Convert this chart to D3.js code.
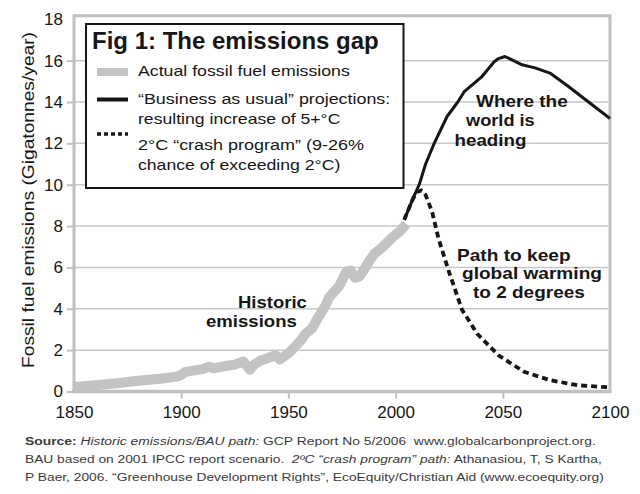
<!DOCTYPE html>
<html>
<head>
<meta charset="utf-8">
<script src="https://cdn.jsdelivr.net/npm/d3@7"></script>
<style>
  html, body { margin: 0; padding: 0; background: #fff; }
  svg { display: block; font-family: "Liberation Sans", Arial, Helvetica, sans-serif; }
</style>
</head>
<body>
<svg id="chart" width="640" height="494"></svg>
<script>
// ---------- data ----------
const xTicks = [1850, 1900, 1950, 2000, 2050, 2100];
const yTicks = [0, 2, 4, 6, 8, 10, 12, 14, 16, 18];

const histYears  = [1850, 1860, 1870, 1880, 1890, 1898, 1900, 1902, 1910, 1913, 1915, 1920, 1925, 1929, 1932, 1934, 1937, 1940, 1944, 1946, 1950, 1953, 1956, 1958, 1961, 1964, 1967, 1969, 1972, 1974, 1977, 1979, 1981, 1983, 1985, 1988, 1990, 1993, 1996, 1999, 2002, 2005];
const histValues = [0.22, 0.3, 0.4, 0.52, 0.62, 0.72, 0.8, 0.95, 1.08, 1.2, 1.12, 1.22, 1.3, 1.45, 1.05, 1.3, 1.5, 1.6, 1.75, 1.55, 1.85, 2.15, 2.5, 2.8, 3.05, 3.6, 4.1, 4.55, 4.9, 5.15, 5.8, 5.85, 5.5, 5.55, 5.85, 6.35, 6.65, 6.9, 7.2, 7.5, 7.75, 8.1];

const bauYears  = [2004, 2008, 2011, 2014, 2018, 2024, 2029, 2032, 2040, 2046, 2048, 2051, 2055, 2059, 2065, 2072, 2080, 2090, 2100];
const bauValues = [8.3, 9.3, 10.0, 11.0, 12.0, 13.3, 14.0, 14.5, 15.2, 15.95, 16.1, 16.2, 16.0, 15.8, 15.65, 15.4, 14.8, 14.0, 13.2];

const crashYears  = [2004, 2008, 2010, 2012, 2014, 2017, 2020, 2025, 2031, 2038, 2048, 2060, 2072, 2085, 2100];
const crashValues = [8.3, 9.3, 9.65, 9.72, 9.5, 8.7, 7.4, 5.75, 3.95, 2.8, 1.75, 0.95, 0.55, 0.3, 0.2];

const titleText = "Fig 1: The emissions gap";
const legendLabels = [
  ["Actual fossil fuel emissions"],
  ["\u201CBusiness as usual\u201D projections:", "resulting increase of 5+\u00B0C"],
  ["2\u00B0C \u201Ccrash program\u201D (9-26%", "chance of exceeding 2\u00B0C)"]
];
const yLabel = "Fossil fuel emissions (Gigatonnes/year)";

// ---------- setup ----------
const svg = d3.select("#chart");
const x = d3.scaleLinear().domain([1850, 2100]).range([74, 610]);
const y = d3.scaleLinear().domain([0, 18]).range([391.5, 19.3]);
const GRAY = "#c0c0c0";
const INK = "#161616";

function fitWidth(sel, x0, w) {
  const bb = sel.node().getBBox();
  const s = w / bb.width;
  sel.attr("transform", `translate(${x0},0) scale(${s},1) translate(${-x0},0)`);
}

// gridlines
svg.append("g").selectAll("line")
  .data(yTicks.filter(v => v > 0 && v < 18))
  .join("line")
  .attr("x1", x(1850)).attr("x2", x(2100) - 2)
  .attr("y1", d => y(d)).attr("y2", d => y(d))
  .attr("stroke", "#c8c8c8").attr("stroke-width", 1.5);

// y axis
const yAxis = svg.append("g")
  .attr("transform", `translate(${x(1850)},0)`)
  .call(d3.axisLeft(y).tickValues(yTicks).tickSize(7).tickPadding(4));
yAxis.select(".domain").remove();
yAxis.selectAll(".tick line").attr("stroke", GRAY).attr("stroke-width", 2)
  .attr("display", d => d === 18 ? "none" : null);
yAxis.selectAll(".tick text").attr("fill", INK).style("font-size", "17px");

// x axis
const xAxis = svg.append("g")
  .attr("transform", `translate(0,${y(0)})`)
  .call(d3.axisBottom(x).tickValues(xTicks).tickFormat(d3.format("d")).tickSize(7).tickPadding(7.5));
xAxis.select(".domain").remove();
xAxis.selectAll(".tick line").attr("stroke", GRAY).attr("stroke-width", 2)
  .attr("display", d => (d === 1850 || d === 2100) ? "none" : null);
xAxis.selectAll(".tick text").attr("fill", INK).style("font-size", "17px");

// frame
const frameTop = y(18) - 3.5;
svg.append("path")
  .attr("d", `M${x(1850)},${y(0)} L${x(1850)},${frameTop} L${x(2100)},${frameTop} L${x(2100)},${y(0)}`)
  .attr("fill", "none").attr("stroke", GRAY).attr("stroke-width", 3);
svg.append("line")
  .attr("x1", x(1850) - 2).attr("x2", x(2100) + 1.5)
  .attr("y1", y(0)).attr("y2", y(0))
  .attr("stroke", GRAY).attr("stroke-width", 3.5);

// lines
const line = d3.line().x(d => x(d[0])).y(d => y(d[1]));
const hist = histYears.map((yr, i) => [yr, histValues[i]]);
const bau = bauYears.map((yr, i) => [yr, bauValues[i]]);
const crash = crashYears.map((yr, i) => [yr, crashValues[i]]);

svg.append("path").datum(hist).attr("d", line)
  .attr("fill", "none").attr("stroke", "#c3c3c3").attr("stroke-width", 10)
  .attr("stroke-linejoin", "round");
svg.append("path").datum(crash).attr("d", line)
  .attr("fill", "none").attr("stroke", INK).attr("stroke-width", 3.8)
  .attr("stroke-dasharray", "6,4");
svg.append("path").datum(bau).attr("d", line)
  .attr("fill", "none").attr("stroke", INK).attr("stroke-width", 3)
  .attr("stroke-linejoin", "round");

// y label
svg.append("text")
  .attr("transform", `translate(33.5,200) rotate(-90)`)
  .attr("text-anchor", "middle")
  .attr("textLength", 336).attr("lengthAdjust", "spacingAndGlyphs")
  .attr("fill", INK).style("font-size", "17px")
  .text(yLabel);

// legend
const lg = svg.append("g");
lg.append("rect").attr("x", 86).attr("y", 24).attr("width", 317.5).attr("height", 164)
  .attr("fill", "#fff").attr("stroke", INK).attr("stroke-width", 2);
lg.append("text").attr("x", 92).attr("y", 49).attr("fill", INK)
  .style("font-size", "24px").style("font-weight", "bold").text(titleText);
lg.append("rect").attr("x", 97).attr("y", 68).attr("width", 31).attr("height", 8).attr("fill", "#c3c3c3");
lg.append("line").attr("x1", 97).attr("x2", 128).attr("y1", 99.5).attr("y2", 99.5)
  .attr("stroke", INK).attr("stroke-width", 4);
lg.append("line").attr("x1", 97).attr("x2", 128).attr("y1", 134).attr("y2", 134)
  .attr("stroke", INK).attr("stroke-width", 3.5).attr("stroke-dasharray", "4,3");

const legendLines = [
  [legendLabels[0][0], 76, 212],
  [legendLabels[1][0], 104, 252.5],
  [legendLabels[1][1], 124, 202.5],
  [legendLabels[2][0], 150.5, 226],
  [legendLabels[2][1], 170.5, 202.5]
];
legendLines.forEach(([t, by, w]) => {
  const s = lg.append("text").attr("x", 138).attr("y", by).attr("fill", INK)
    .style("font-size", "14px").text(t);
  fitWidth(s, 138, w);
});

// annotations
const notes = [
  ["Where the", 476, 106.7, 92],
  ["world is", 466, 126, 70],
  ["heading", 454.5, 146, 72],
  ["Path to keep", 457, 260.7, 114],
  ["global warming", 462, 279.3, 140],
  ["to 2 degrees", 473, 298.3, 112],
  ["Historic", 238, 308.3, 69],
  ["emissions", 206, 327.3, 91]
];
notes.forEach(([t, nx, ny, w]) => {
  const s = svg.append("text").attr("x", nx).attr("y", ny).attr("fill", INK)
    .style("font-size", "16px").style("font-weight", "bold").text(t);
  fitWidth(s, nx, w);
});

// source
const SRC = "#3a3a3a";
const src1 = svg.append("text").attr("x", 25).attr("y", 445).attr("fill", SRC).style("font-size", "11.5px");
src1.append("tspan").style("font-weight", "bold").text("Source:");
src1.append("tspan").style("font-style", "italic").text(" Historic emissions/BAU path:");
src1.append("tspan").text(" GCP Report No 5/2006\u00A0\u00A0www.globalcarbonproject.org.");
fitWidth(src1, 25, 571);

const src2 = svg.append("text").attr("x", 25).attr("y", 463.5).attr("fill", SRC).style("font-size", "11.5px");
src2.append("tspan").text("BAU based on 2001 IPCC report scenario.\u00A0\u00A0");
src2.append("tspan").style("font-style", "italic").text("2\u00BAC \u201Ccrash program\u201D path:");
src2.append("tspan").text(" Athanasiou, T, S Kartha,");
fitWidth(src2, 25, 577.5);

const src3 = svg.append("text").attr("x", 25).attr("y", 481.5).attr("fill", SRC).style("font-size", "11.5px");
src3.text("P Baer, 2006. \u201CGreenhouse Development Rights\u201D, EcoEquity/Christian Aid (www.ecoequity.org)");
fitWidth(src3, 25, 580);
</script>
</body>
</html>
